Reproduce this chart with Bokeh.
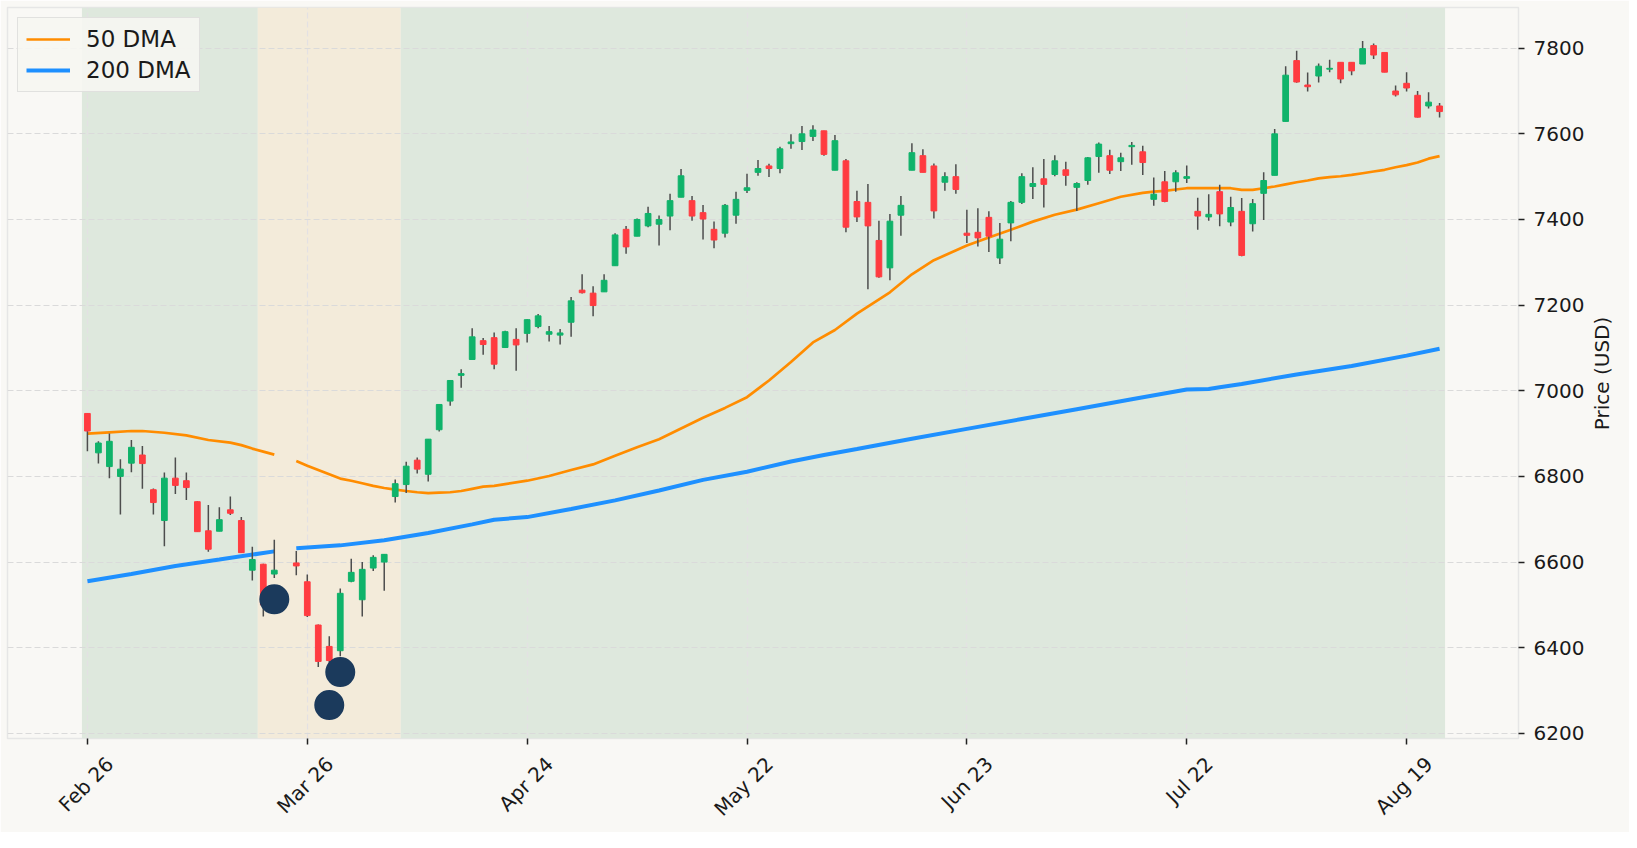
import numpy as np
from math import pi
from bokeh.embed import file_html
from bokeh.models import (BoxAnnotation, ColumnDataSource, Legend, LegendItem,
                          LinearAxis, Range1d)
from bokeh.plotting import figure
from bokeh.resources import INLINE

nan = np.nan

# trading-day index, 0 = Feb 26; day 18 has no data
tick_days = [0, 20, 40, 60, 80, 100, 120]
tick_labels = ["Feb 26", "Mar 26", "Apr 24", "May 22", "Jun 23", "Jul 22", "Aug 19"]

opens = [
    6947, 6855, 6823, 6800, 6831, 6850, 6769, 6697, 6796, 6790,
    6741, 6673, 6672, 6722, 6697, 6581, 6595, 6572, nan, 6598,
    6554, 6453, 6403, 6393, 6555, 6512, 6586, 6600, 6753, 6781,
    6838, 6805, 6909, 6976, 7036, 7073, 7117, 7124, 7101, 7120,
    7134, 7150, 7132, 7130, 7160, 7235, 7228, 7231, 7292, 7377,
    7361, 7385, 7389, 7408, 7452, 7444, 7416, 7377, 7368, 7410,
    7468, 7510, 7525, 7519, 7577, 7582, 7594, 7607, 7515, 7537,
    7442, 7440, 7351, 7287, 7410, 7515, 7549, 7525, 7487, 7500,
    7368, 7370, 7405, 7310, 7392, 7440, 7477, 7495, 7505, 7516,
    7475, 7491, 7547, 7549, 7535, 7570, 7558, 7447, 7488, 7488,
    7496, 7419, 7406, 7465, 7394, 7419, 7390, 7461, 7503, 7629,
    7771, 7714, 7735, 7751, 7767, 7767, 7763, 7806, 7790, 7700,
    7718, 7690, 7665, 7665]
highs = [
    6948, 6882, 6900, 6840, 6885, 6871, 6772, 6809, 6844, 6809,
    6742, 6733, 6728, 6753, 6705, 6636, 6596, 6652, nan, 6626,
    6571, 6454, 6427, 6538, 6608, 6600, 6616, 6618, 6793, 6834,
    6844, 6887, 6968, 7025, 7050, 7146, 7123, 7136, 7140, 7146,
    7167, 7179, 7151, 7144, 7219, 7272, 7244, 7272, 7368, 7385,
    7402, 7430, 7409, 7460, 7518, 7455, 7434, 7395, 7436, 7465,
    7507, 7539, 7530, 7570, 7599, 7618, 7620, 7607, 7597, 7541,
    7467, 7483, 7397, 7413, 7455, 7578, 7564, 7531, 7510, 7529,
    7423, 7426, 7419, 7392, 7443, 7508, 7522, 7541, 7550, 7535,
    7487, 7546, 7580, 7563, 7556, 7581, 7572, 7498, 7513, 7515,
    7526, 7451, 7459, 7481, 7453, 7450, 7448, 7510, 7611, 7758,
    7794, 7743, 7764, 7773, 7767, 7767, 7817, 7811, 7790, 7713,
    7744, 7700, 7697, 7672]
lows = [
    6859, 6830, 6796, 6711, 6810, 6771, 6711, 6637, 6759, 6745,
    6670, 6624, 6672, 6710, 6622, 6557, 6473, 6563, nan, 6569,
    6472, 6355, 6340, 6380, 6553, 6473, 6579, 6533, 6739, 6761,
    6807, 6788, 6905, 6965, 7007, 7073, 7084, 7050, 7100, 7047,
    7113, 7146, 7115, 7108, 7126, 7227, 7174, 7231, 7292, 7320,
    7361, 7382, 7339, 7375, 7452, 7397, 7353, 7333, 7358, 7390,
    7462, 7502, 7499, 7508, 7565, 7562, 7583, 7549, 7515, 7370,
    7394, 7237, 7264, 7258, 7362, 7515, 7510, 7402, 7467, 7460,
    7345, 7337, 7324, 7296, 7349, 7436, 7448, 7428, 7501, 7479,
    7420, 7481, 7509, 7506, 7513, 7528, 7504, 7432, 7440, 7465,
    7485, 7376, 7397, 7384, 7384, 7314, 7372, 7399, 7503, 7629,
    7719, 7699, 7720, 7744, 7718, 7737, 7763, 7775, 7744, 7687,
    7699, 7638, 7659, 7638]
closes = [
    6906, 6878, 6882, 6817, 6868, 6830, 6739, 6796, 6779, 6774,
    6671, 6630, 6699, 6714, 6622, 6606, 6500, 6581, nan, 6591,
    6475, 6368, 6370, 6527, 6576, 6583, 6611, 6618, 6783, 6824,
    6817, 6887, 6968, 7024, 7040, 7126, 7108, 7062, 7138, 7107,
    7166, 7175, 7138, 7135, 7210, 7229, 7199, 7258, 7364, 7336,
    7400, 7414, 7400, 7444, 7502, 7408, 7401, 7352, 7433, 7447,
    7474, 7519, 7519, 7565, 7581, 7600, 7609, 7552, 7584, 7382,
    7406, 7385, 7266, 7396, 7433, 7556, 7510, 7420, 7500, 7470,
    7363, 7357, 7361, 7354, 7440, 7500, 7484, 7482, 7537, 7503,
    7484, 7544, 7576, 7515, 7544, 7573, 7533, 7459, 7442, 7509,
    7500, 7408, 7412, 7413, 7428, 7316, 7437, 7491, 7600, 7737,
    7721, 7710, 7758, 7753, 7728, 7747, 7799, 7784, 7744, 7691,
    7707, 7639, 7674, 7652]

dma50_days = [0, 2, 4, 5, 7, 9, 11, 13, 14, 15, 16, 17,
              18, 19, 20, 21, 22, 23, 24, 25, 26, 27, 28, 29, 30, 31, 32, 33, 34, 35, 36, 37, 38,
              40, 42, 44, 46, 48, 50, 52, 54, 56, 58, 60, 62, 64, 66,
              68, 70, 73, 75, 77,
              80, 82, 84, 86, 88, 90, 92, 94, 96,
              97, 98, 99, 100, 101, 102, 103, 104, 105, 106, 107, 108, 109, 110,
              111, 112, 113, 114, 115, 116, 117, 118, 119, 120, 121, 122, 123]
dma50 = [6900, 6903, 6906, 6906, 6902, 6896, 6885, 6879, 6873, 6865, 6858, 6851,
         nan, 6836, 6825, 6815, 6805, 6795, 6790, 6784, 6778, 6773, 6769, 6766, 6763, 6761, 6762, 6763, 6766, 6771, 6776, 6778, 6782,
         6790, 6801, 6815, 6828, 6848, 6868, 6887, 6912, 6937, 6960, 6985, 7024, 7067, 7113,
         7142, 7180, 7230, 7272, 7305,
         7339, 7358, 7376, 7395, 7411, 7423, 7438, 7453, 7462,
         7465, 7467, 7470, 7473, 7473, 7473, 7473, 7473, 7469, 7469, 7473, 7477, 7482, 7487,
         7491, 7496, 7499, 7501, 7504, 7508, 7512, 7516, 7522, 7527, 7533, 7542, 7548]

dma200_days = [0, 4, 8, 12, 17, 18, 19, 23, 27, 31, 35, 37, 40, 44, 48, 52, 56, 60, 64, 67,
               70, 75, 80, 85, 90, 95, 100, 102, 103, 105, 110, 115, 120, 123]
dma200 = [6555, 6572, 6591, 6606, 6625, nan, 6632, 6639, 6651, 6668, 6688, 6699, 6705, 6724,
          6744, 6767, 6792, 6811, 6835, 6850, 6864, 6888, 6911, 6934, 6957, 6980, 7003, 7004,
          7008, 7016, 7038, 7058, 7082, 7098]

signal_days = [17, 22, 23]
signal_prices = [6513, 6266, 6343]

regime_first = [0, 16, 29]
regime_last = [15, 28, 123]
regime_kind = ["uptrend", "correction", "uptrend"]

BG = "#f9f8f5"
UP, DOWN = "#0fb36a", "#ff3b40"
SHADE = {"uptrend": "#dee8dd", "correction": "#f3ebda"}
FONT = "DejaVu Sans"
INK = "#1a1a1a"

x_lo, x_hi = -7.27, 130.18
y_lo, y_hi = 6188, 7895
y_ticks = list(range(6200, 7801, 200))
frame_w, frame_h = 1512, 735

p = figure(width=1629, height=832, x_range=Range1d(x_lo, x_hi), y_range=Range1d(y_lo, y_hi),
           y_axis_location="right", output_backend="svg", toolbar_location=None,
           background_fill_color=BG, border_fill_color=BG,
           min_border_left=7, min_border_top=7, min_border_right=110, min_border_bottom=90)
p.outline_line_color = "#e6e6e6"
p.outline_line_width = 1.5

for first, last, kind in zip(regime_first, regime_last, regime_kind):
    p.add_layout(BoxAnnotation(left=first - 0.5, right=last + 0.5, fill_color=SHADE[kind],
                               fill_alpha=1.0, line_color=None, level="image"))

o, h, l, c = (np.array(a, dtype=float) for a in (opens, highs, lows, closes))
days = np.arange(len(o))
src = ColumnDataSource(dict(day=days, high=h, low=l,
                            top=np.maximum(o, c), bottom=np.minimum(o, c),
                            color=np.where(c >= o, UP, DOWN)))

l50 = p.line(dma50_days, dma50, line_color="#ff8c00", line_width=2.7)
l200 = p.line(dma200_days, dma200, line_color="#1e90ff", line_width=4)

p.segment("day", "low", "day", "high", source=src, line_color="#4d4d4d", line_width=1.5)
p.vbar(x="day", width=0.52, top="top", bottom="bottom", source=src,
       fill_color="color", line_color="color", line_width=1)

p.scatter(signal_days, signal_prices, size=30, fill_color="#1b3a5c", line_color=None)

legend = Legend(items=[LegendItem(label="50 DMA", renderers=[l50]),
                       LegendItem(label="200 DMA", renderers=[l200])],
                location="top_left", margin=10, padding=8, spacing=5,
                glyph_width=44, glyph_height=26, label_height=26, label_standoff=16,
                label_text_font=FONT, label_text_font_size="23px", label_text_color=INK,
                border_line_color="#cccccc", border_line_width=1.5,
                background_fill_color="#f6f6f2", background_fill_alpha=0.9)
p.add_layout(legend)

# grid
p.xgrid.ticker = tick_days
p.ygrid.ticker = y_ticks
p.xgrid.grid_line_color = "#e3e1e3"
p.ygrid.grid_line_color = "#dadada"
for g in (p.xgrid, p.ygrid):
    g.grid_line_dash = "6 3"
    g.grid_line_width = 1.2

# axes: bottom axis carries the tick marks only
p.xaxis.ticker = tick_days
p.xaxis.major_label_overrides = {d: "" for d in tick_days}
p.xaxis.major_label_text_font_size = "0px"
p.xaxis.major_label_standoff = 0
p.yaxis.ticker = y_ticks
for ax in (p.xaxis, p.yaxis):
    ax.axis_line_color = None
    ax.major_tick_in = 0
    ax.major_tick_out = 6
    ax.minor_tick_out = 0
    ax.minor_tick_in = 0
    ax.major_tick_line_color = "#222222"
    ax.major_tick_line_width = 1.5
p.yaxis.major_label_text_font = FONT
p.yaxis.major_label_text_font_size = "20px"
p.yaxis.major_label_text_color = INK
p.yaxis.major_label_standoff = 9

bare = dict(axis_line_color=None, major_tick_out=0, major_tick_in=0,
            minor_tick_out=0, minor_tick_in=0, major_label_text_font=FONT,
            major_label_text_font_size="20px", major_label_text_color=INK)

# date labels: a second bottom axis on a range shifted so the rotated
# labels sit centred under the tick marks
shift = 22.5 / frame_w * (x_hi - x_lo)
p.extra_x_ranges = {"labels": Range1d(x_lo - shift, x_hi - shift)}
date_axis = LinearAxis(x_range_name="labels", ticker=tick_days,
                       major_label_overrides=dict(zip(tick_days, tick_labels)),
                       major_label_orientation=pi / 4, major_label_standoff=16, **bare)
p.add_layout(date_axis, "below")

# y title, reading bottom to top, centred on the frame
title_len = 114
p.extra_y_ranges = {"px": Range1d(0, frame_h)}
title_at = round(frame_h / 2 - title_len / 2)
title_axis = LinearAxis(y_range_name="px", ticker=[title_at],
                        major_label_overrides={title_at: "Price (USD)"},
                        major_label_orientation=pi / 2, major_label_standoff=15, **bare)
p.add_layout(title_axis, "right")

open("out.html", "w").write(file_html(p, INLINE))
